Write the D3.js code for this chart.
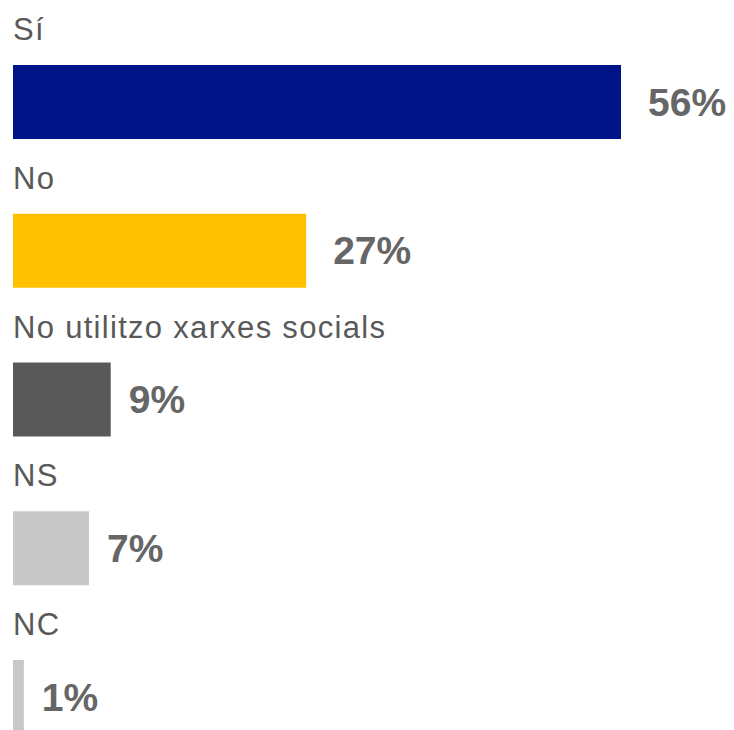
<!DOCTYPE html>
<html>
<head>
<meta charset="utf-8">
<script src="https://cdn.jsdelivr.net/npm/d3@7"></script>
<style>
  body { margin: 0; background: #fff; }
  text { font-family: "Liberation Sans", Arial, sans-serif; }
</style>
</head>
<body>
<div id="chart-container"></div>
<script>
// Data
const categories = ["Sí", "No", "No utilitzo xarxes socials", "NS", "NC"];
const values = [56, 27, 9, 7, 1];
const barColors = ["#001489", "#FFC000", "#595959", "#C8C8C8", "#C8C8C8"];

const width = 734;
const height = 730;

const svg = d3.select("#chart-container")
  .append("svg")
  .attr("width", width)
  .attr("height", height);

const data = categories.map((c, i) => ({label: c, value: values[i], color: barColors[i]}));

// Scales
const x = d3.scaleLinear()
  .domain([0, d3.max(values)])
  .range([13, 621]);

const y = d3.scaleBand()
  .domain(categories)
  .range([15, 15 + 148.75 * categories.length])
  .padding(0);

const rows = svg.selectAll(".row")
  .data(data)
  .join("g")
  .attr("class", "row")
  .attr("transform", d => `translate(0,${y(d.label)})`);

// Category label above each bar
rows.append("text")
  .attr("x", 13)
  .attr("y", 25)
  .attr("fill", "#595959")
  .style("font-size", "31px")
  .style("letter-spacing", "1.3px")
  .text(d => d.label);

// Bars
rows.append("rect")
  .attr("x", x(0))
  .attr("y", 50)
  .attr("width", d => x(d.value) - x(0))
  .attr("height", 74)
  .attr("fill", d => d.color);

// Value labels
rows.append("text")
  .attr("x", d => x(d.value) + (d.value >= 10 ? 27 : 18))
  .attr("y", 87)
  .attr("dy", "0.35em")
  .attr("fill", "#666666")
  .style("font-size", "39px")
  .style("font-weight", "bold")
  .text(d => d.value + "%");
</script>
</body>
</html>
